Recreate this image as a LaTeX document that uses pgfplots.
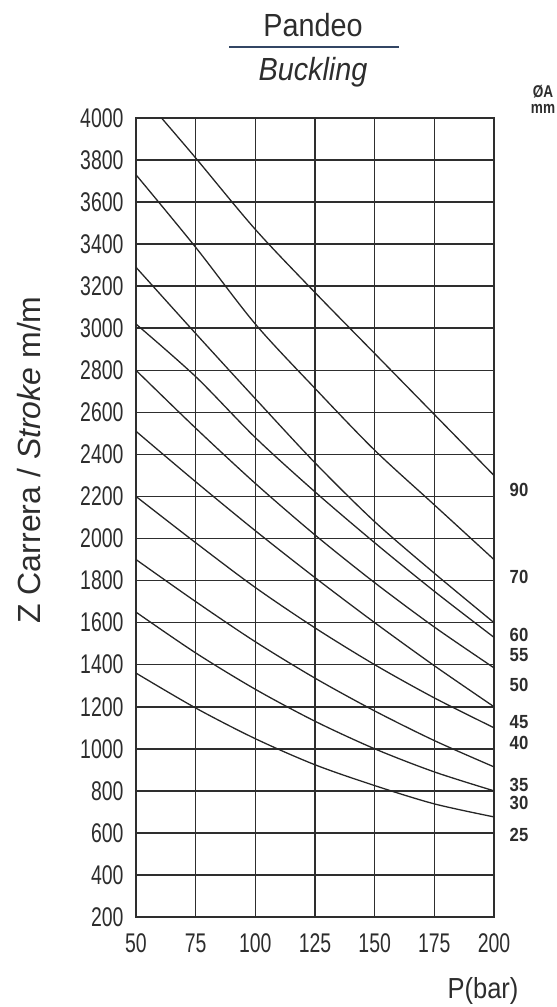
\documentclass[border=0pt]{standalone}
\usepackage{fontspec}
\setmainfont{Liberation Sans}
\newfontfamily\tickfont{Liberation Sans}[FakeStretch=0.72]
\newfontfamily\titlefont{Liberation Sans}[FakeStretch=0.9]
\newfontfamily\lblfont{Liberation Sans}[FakeStretch=0.88]
\newfontfamily\smallfont{Liberation Sans}[FakeStretch=0.8]
\usepackage{pgfplots}
\pgfplotsset{compat=1.18}
\usetikzlibrary{calc}
\definecolor{txt}{RGB}{45,45,45}
\definecolor{rulec}{RGB}{50,70,100}
\begin{document}
\begin{tikzpicture}
\begin{axis}[
  scale only axis, width=358pt, height=799pt,
  xmin=50, xmax=200, ymin=200, ymax=4000,
  xtick={50,75,...,200}, ytick={200,400,...,4000},
  grid=major,
  major grid style={black!82, line width=1.6pt},
  axis line style={black!82, line width=1.6pt},
  tick style={draw=none},
  /pgf/number format/assume math mode=true,
  /pgf/number format/1000 sep={},
  ticklabel style={font=\fontsize{27}{30}\selectfont\tickfont, text=txt},
  yticklabel style={xshift=-9pt},
  xticklabel style={yshift=-13pt},
]
% 90
\addplot[smooth, black!85, line width=1.3pt] coordinates {(60.7,4000) (75,3810) (100,3470) (125,3170) (150,2880) (175,2590) (200,2300)};
% 70
\addplot[smooth, black!85, line width=1.3pt] coordinates {(50,3730) (75,3385) (100,3020) (125,2714) (150,2420) (175,2160) (200,1900)};
% 60
\addplot[smooth, black!85, line width=1.3pt] coordinates {(50,3290) (75,2975) (100,2665) (125,2360) (150,2080) (175,1835) (200,1600)};
% 55
\addplot[smooth, black!85, line width=1.3pt] coordinates {(50,3020) (75,2770) (100,2480) (125,2222) (150,1980) (175,1749) (200,1530)};
% 50
\addplot[smooth, black!85, line width=1.3pt] coordinates {(50,2800) (75,2525) (100,2262) (125,2017) (150,1790) (175,1579) (200,1385)};
% 45
\addplot[smooth, black!85, line width=1.3pt] coordinates {(50,2510) (75,2270) (100,2037) (125,1814) (150,1600) (175,1395) (200,1200)};
% 40
\addplot[smooth, black!85, line width=1.3pt] coordinates {(50,2200) (75,1980) (100,1767) (125,1575) (150,1400) (175,1242) (200,1100)};
% 35
\addplot[smooth, black!85, line width=1.3pt] coordinates {(50,1900) (75,1700) (100,1509) (125,1336) (150,1180) (175,1039) (200,914)};
% 30
\addplot[smooth, black!85, line width=1.3pt] coordinates {(50,1650) (75,1456) (100,1283) (125,1131) (150,1000) (175,890) (200,800)};
% 25
\addplot[smooth, black!85, line width=1.3pt] coordinates {(50,1360) (75,1194) (100,1048) (125,924) (150,825) (175,738) (200,676)};
\end{axis}
\begin{scope}[shift={($(current axis.south west)+(-136pt,917pt)$)}, x=1pt, y=-1pt]
  \node[text=txt, font=\fontsize{32}{36}\selectfont\titlefont] at (313,25) {Pandeo};
  \draw[rulec, line width=1.3pt] (229,47) -- (399,47);
  \node[text=txt, font=\fontsize{32}{36}\selectfont\titlefont\itshape] at (313,72) {Buckling};
  \node[text=txt, font=\fontsize{32}{36}\selectfont, rotate=90] at (29,460) {Z Carrera / \textit{Stroke} m/m};
  \node[text=txt, font=\fontsize{29}{32}\selectfont\lblfont] at (483,991) {P(bar)};
  \node[text=txt, font=\fontsize{17}{17}\selectfont\smallfont\bfseries, inner sep=0pt, anchor=base] at (543,98) {ØA};
  \node[text=txt, font=\fontsize{17}{17}\selectfont\smallfont\bfseries, inner sep=0pt, anchor=base] at (543,114) {mm};
  \begin{scope}[every node/.style={text=txt, font=\fontsize{19}{20}\selectfont\lblfont\bfseries, inner sep=0pt}]
    \node at (519,490) {90};
    \node at (519,577) {70};
    \node at (519,635) {60};
    \node at (519,655) {55};
    \node at (519,685) {50};
    \node at (519,722) {45};
    \node at (519,743) {40};
    \node at (519,785) {35};
    \node at (519,803) {30};
    \node at (519,835) {25};
  \end{scope}
  \pgfresetboundingbox
  \path (0,0) rectangle (557,1007);
\end{scope}
\end{tikzpicture}
\end{document}
